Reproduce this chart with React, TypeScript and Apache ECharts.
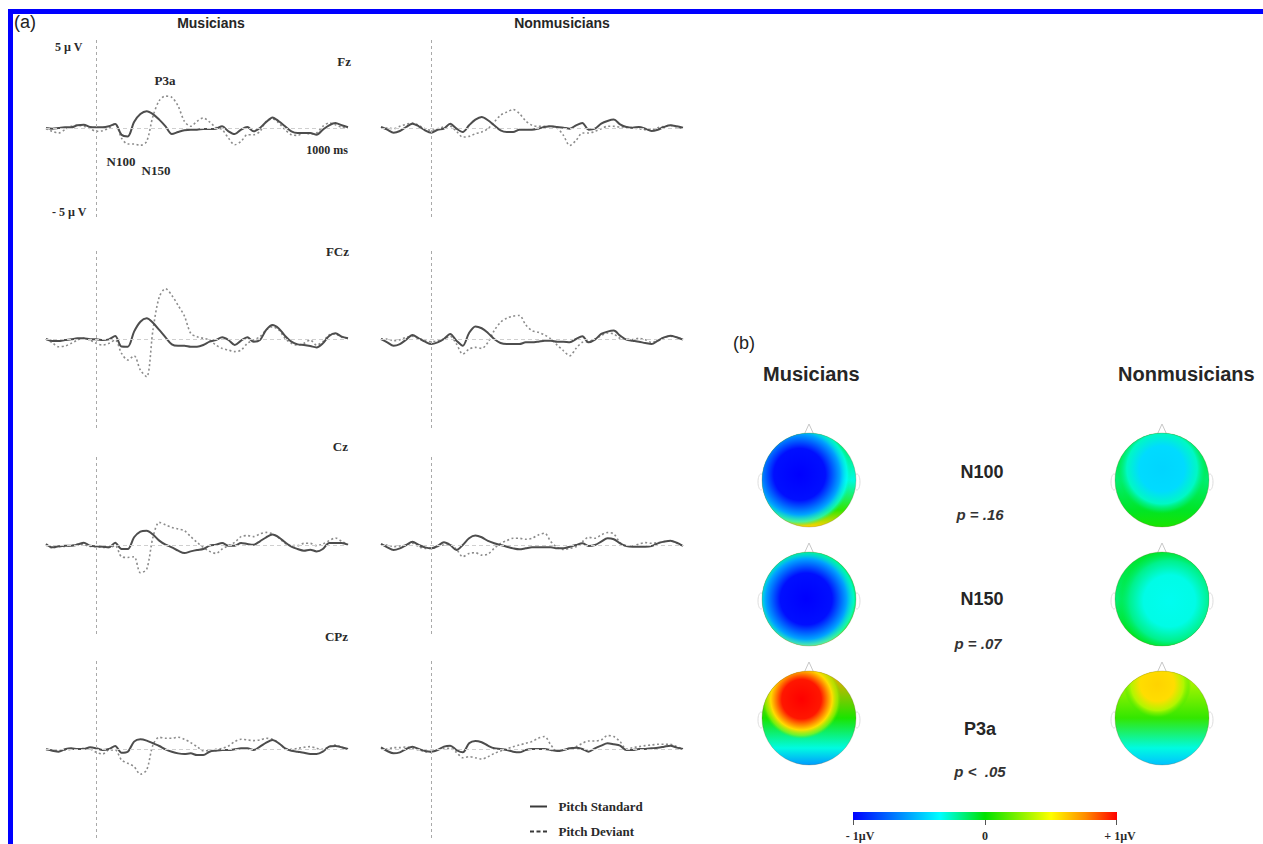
import React, { useEffect, useRef } from 'react';
import * as echarts from 'echarts';

// ---------- Data ----------
const timeMs = [-200,-175,-150,-125,-100,-75,-50,-25,0,25,50,75,100,125,150,175,200,225,250,275,300,325,350,375,400,425,450,475,500,525,550,575,600,625,650,675,700,725,750,775,800,825,850,875,900,925,950,975,1000];

const groups = ['Musicians', 'Nonmusicians'];
const electrodes = ['Fz', 'FCz', 'Cz', 'CPz'];
const conditions = ['Pitch Standard', 'Pitch Deviant'];

// amplitudes in µV (positive up)
const musFzStd = [0,-0.04,0,0.04,0.04,0.16,0.2,0.06,0.04,0.04,0.1,0.24,-0.4,-0.5,0.36,0.83,1.0,0.83,0.5,0.1,-0.36,-0.24,-0.14,-0.1,-0.1,-0.06,-0.06,-0.04,0.1,-0.2,-0.36,-0.1,0.06,-0.2,0,0.36,0.63,0.4,0.1,-0.2,-0.3,-0.3,-0.3,-0.4,-0.1,0.16,0.3,0.16,0.04];
const musFzDev = [-0.04,-0.2,-0.3,-0.1,0.1,0.16,0.1,-0.04,-0.2,-0.16,0,0.24,-0.6,-0.95,-0.95,-1.03,-0.8,0.7,1.63,1.9,1.83,1.3,0.4,0.1,0.4,0.6,0.36,0.04,-0.1,-0.6,-1.0,-0.8,-0.4,-0.4,-0.2,0.4,0.54,0.3,-0.1,-0.4,-0.44,-0.3,-0.36,-0.3,0.1,0.3,0.2,0.04,0];
const musFCzStd = [0,-0.12,-0.12,-0.06,-0.02,0.04,0.04,-0.02,-0.02,-0.06,-0.02,0.18,-0.45,-0.46,0.44,1.03,1.23,0.97,0.54,0.1,-0.32,-0.4,-0.4,-0.46,-0.46,-0.36,-0.16,-0.06,0.1,-0.06,-0.36,-0.1,0.1,-0.16,-0.06,0.54,0.83,0.63,0.18,-0.16,-0.32,-0.36,-0.42,-0.5,-0.26,0.18,0.34,0.14,0.04];
const musFCzDev = [0,-0.22,-0.46,-0.42,-0.26,-0.06,0.04,-0.06,-0.26,-0.36,-0.26,-0.06,-0.85,-1.25,-1.0,-1.85,-2.25,0.54,2.5,3.0,2.6,2.0,1.37,0.34,0.14,0.04,-0.06,-0.36,-0.56,-0.66,-0.75,-0.66,-0.26,-0.06,0.14,0.54,0.73,0.54,0.04,-0.26,-0.36,-0.26,-0.06,-0.36,-0.16,0.24,0.3,0.1,0.04];
const musCzStd = [0.06,-0.14,-0.08,-0.04,-0.04,0.02,0.14,-0.04,-0.08,-0.1,-0.14,0.14,-0.24,-0.24,0.46,0.8,0.85,0.62,0.26,0.02,-0.14,-0.34,-0.48,-0.38,-0.3,-0.24,-0.04,0.02,0.12,-0.04,-0.04,0.12,0.06,0.02,0.22,0.46,0.62,0.46,0.16,-0.1,-0.24,-0.34,-0.28,-0.38,-0.24,0.12,0.12,0.12,0.02];
const musCzDev = [0,-0.18,-0.1,-0.08,-0.04,0.06,0.02,-0.08,-0.1,-0.14,-0.14,-0.04,-0.7,-0.74,-0.7,-1.65,-1.45,0.46,1.35,1.2,1.05,0.95,0.85,0.5,0.16,-0.14,-0.38,-0.5,-0.24,-0.04,0.16,0.5,0.56,0.5,0.66,0.75,0.66,0.42,0.1,-0.04,-0.04,0.1,0.1,-0.04,0.06,0.26,0.42,0.22,0.02];
const musCPzStd = [-0.02,-0.1,-0.16,-0.02,0.04,0,0,0.1,0.04,-0.06,0,0.18,-0.22,-0.16,0.44,0.58,0.5,0.34,0.18,-0.02,-0.16,-0.26,-0.3,-0.26,-0.36,-0.36,-0.16,-0.1,-0.06,-0.06,-0.02,0.04,0.04,-0.06,0.14,0.38,0.54,0.34,0.04,-0.1,-0.16,-0.22,-0.3,-0.3,-0.16,0.14,0.18,0.1,0];
const musCPzDev = [-0.02,-0.06,-0.1,-0.06,-0.02,0,0.04,0,-0.2,-0.3,-0.06,-0.06,-0.65,-0.85,-1.05,-1.5,-1.25,0.24,0.7,0.64,0.64,0.7,0.58,0.38,0.14,-0.1,-0.1,-0.02,0.04,0.18,0.44,0.58,0.54,0.5,0.54,0.64,0.58,0.34,0.04,-0.02,0.04,0.1,0.14,0.04,-0.02,0.14,0.24,0.1,0];
const nonFzStd = [0.06,-0.1,-0.28,-0.18,0.06,0.26,0.1,-0.14,-0.28,-0.1,-0.04,0.26,-0.04,-0.24,0.16,0.5,0.66,0.46,0.16,-0.14,-0.24,-0.24,-0.1,-0.1,-0.1,-0.04,0.06,0.1,0.06,0.02,-0.04,0.16,0.3,-0.1,-0.04,0.26,0.42,0.5,0.22,0.06,0.02,0.06,-0.04,-0.18,-0.1,0.06,0.16,0.1,0.02];
const nonFzDev = [0,0,-0.04,0.1,0.22,0.3,0.16,-0.04,-0.14,-0.04,0.06,0.1,-0.2,-0.54,-0.5,-0.34,-0.24,-0.04,0.36,0.76,0.95,1.1,0.86,0.42,0.16,0.1,0.1,0.1,0,-0.44,-1.04,-0.74,-0.3,-0.3,-0.2,-0.04,0.1,0.1,0.06,0.06,0,-0.04,-0.1,-0.1,0.02,0.1,0.16,0.06,-0.04];
const nonFCzStd = [0,-0.2,-0.4,-0.3,-0.04,0.24,0.04,-0.16,-0.3,-0.2,0,0.3,-0.1,-0.4,0.36,0.75,0.64,0.36,0,-0.24,-0.3,-0.3,-0.3,-0.2,-0.2,-0.16,-0.1,-0.1,-0.16,-0.16,-0.2,0,0.16,-0.2,-0.04,0.3,0.44,0.5,0.2,-0.04,-0.1,-0.16,-0.24,-0.3,-0.1,0.1,0.2,0.1,-0.04];
const nonFCzDev = [0,0,-0.1,-0.04,0.1,0.16,0.04,-0.1,-0.16,-0.1,0,0.16,-0.3,-0.9,-0.6,-0.5,-0.56,-0.2,0.5,1.0,1.24,1.36,1.4,0.84,0.5,0.4,0.24,0,-0.36,-0.7,-1.0,-0.56,-0.2,-0.16,0,0.2,0.36,0.3,0.04,0,-0.04,0.04,-0.04,-0.2,-0.1,0.1,0.16,0.1,-0.04];
const nonCzStd = [0.06,-0.14,-0.3,-0.2,0,0.2,0,-0.14,-0.2,-0.06,0.16,0,-0.3,0,0.4,0.56,0.46,0.24,0.1,0,-0.1,-0.2,-0.26,-0.2,-0.14,-0.14,-0.14,-0.14,-0.2,-0.2,-0.1,0,0.1,-0.06,0,0.2,0.4,0.34,0.1,-0.06,-0.1,-0.1,-0.1,-0.06,0.1,0.2,0.26,0.14,-0.06];
const nonCzDev = [0,0,-0.1,-0.06,0,0.1,-0.1,-0.2,-0.2,-0.1,0,0,-0.26,-0.7,-0.5,-0.46,-0.6,-0.54,-0.2,0.1,0.26,0.4,0.4,0.34,0.4,0.6,0.7,0.2,-0.14,-0.26,-0.2,-0.1,0.2,0.46,0.4,0.6,0.74,0.66,0.14,-0.06,-0.06,0.06,0.14,0.1,0.14,0.2,0.26,0.1,-0.06];
const nonCPzStd = [0.1,-0.12,-0.26,-0.2,0,0.14,0,-0.12,-0.16,-0.06,0.14,0.2,-0.06,-0.2,0.34,0.48,0.4,0.2,0.04,0,-0.06,-0.16,-0.2,-0.06,0,0,0,-0.06,-0.12,-0.06,0.04,0.08,0,-0.16,0.04,0.2,0.34,0.28,0.2,-0.06,-0.06,0,0,0.04,0.08,0.14,0.2,0.08,0];
const nonCPzDev = [0,0,0.08,0.08,0.12,0.04,-0.06,-0.16,-0.2,-0.06,0.04,0.04,-0.2,-0.52,-0.46,-0.52,-0.6,-0.46,-0.26,-0.12,0,0.14,0.24,0.34,0.44,0.64,0.74,0.24,-0.12,-0.06,0.04,0.14,0.34,0.48,0.48,0.54,0.8,0.74,0.44,0,0.08,0.14,0.2,0.24,0.28,0.28,0.28,0.14,0];

// topographic maps (µV), Musicians then Nonmusicians, each N100, N150, P3a
const topoComponents = ['N100', 'N150', 'P3a'];
const topoPValues = ['p = .16', 'p = .07', 'p <  .05'];
// scalp values from front to back: top, middle, lower, bottom
const topoFrontBackMus = [[-0.1, -0.3, 0.1, 0.6], [0.0, -0.15, 0.15, 0.6], [0.7, 0.05, -0.3, -0.6]];
const topoFrontBackNon = [[-0.05, -0.15, -0.05, 0.05], [-0.05, -0.15, -0.05, 0.0], [0.4, 0.1, -0.3, -0.5]];
// extremum of each map: value
const topoPeakMus = [-1.0, -1.0, 1.0];
const topoPeakNon = [-0.45, -0.32, 0.6];
// extremum location on the scalp (relative x, relative y) and spread
const topoPeakLocMus = [[0.4, 0.44, 0.55], [0.47, 0.5, 0.55], [0.42, 0.3, 0.42]];
const topoPeakLocNon = [[0.5, 0.38, 0.48], [0.58, 0.52, 0.55], [0.45, 0.14, 0.36]];
const colorScaleTicks = ['- 1µV', '0', '+ 1µV'];

// ---------- colour scale (jet-like) ----------
const jetStops: [number, number[]][] = [
  [0.0, [0, 0, 255]],
  [0.33, [0, 255, 255]],
  [0.5, [0, 225, 0]],
  [0.75, [255, 255, 0]],
  [0.88, [255, 140, 0]],
  [1.0, [255, 0, 0]],
];
function jet(v: number, a = 1) {
  const t = Math.max(0, Math.min(1, (v + 1) / 2));
  for (let i = 1; i < jetStops.length; i++) {
    const [t1, c1] = jetStops[i];
    const [t0, c0] = jetStops[i - 1];
    if (t <= t1) {
      const f = (t - t0) / (t1 - t0);
      const c = c0.map((x, k) => Math.round(x + (c1[k] - x) * f));
      return `rgba(${c[0]},${c[1]},${c[2]},${a})`;
    }
  }
  return `rgba(255,0,0,${a})`;
}

const App: React.FC = () => {
  const ref = useRef<HTMLDivElement>(null);

  useEffect(() => {
    if (!ref.current) return;
    const chart = echarts.init(ref.current, undefined, { renderer: 'svg' });

    const colLeft = [46, 381];
    const rowTop = [39, 250, 456, 660];
    const gridW = 302;
    const gridH = 178;

    const panelData = [
      [musFzStd, musFzDev, nonFzStd, nonFzDev],
      [musFCzStd, musFCzDev, nonFCzStd, nonFCzDev],
      [musCzStd, musCzDev, nonCzStd, nonCzDev],
      [musCPzStd, musCPzDev, nonCPzStd, nonCPzDev],
    ];

    const grids: any[] = [];
    const xAxes: any[] = [];
    const yAxes: any[] = [];
    const series: any[] = [];

    electrodes.forEach((el, r) => {
      groups.forEach((g, c) => {
        const gi = grids.length;
        grids.push({ left: colLeft[c], top: rowTop[r], width: gridW, height: gridH });
        xAxes.push({ gridIndex: gi, type: 'value', min: -200, max: 1000, show: false });
        yAxes.push({ gridIndex: gi, type: 'value', min: -5.3, max: 5.3, show: false });
        const std = panelData[r][c * 2];
        const dev = panelData[r][c * 2 + 1];
        series.push({
          name: conditions[1],
          type: 'line',
          xAxisIndex: gi,
          yAxisIndex: gi,
          data: timeMs.map((t, i) => [t, dev[i]]),
          symbol: 'none',
          smooth: 0.3,
          lineStyle: { color: '#8c8c8c', width: 1.6, type: [2, 2.5] },
          itemStyle: { color: '#8c8c8c' },
          silent: true,
          z: 3,
          markLine: {
            silent: true,
            symbol: ['none', 'none'],
            label: { show: false },
            data: [
              { xAxis: 0, lineStyle: { color: '#a9a9a9', type: [3, 3], width: 1 } },
              { yAxis: 0, lineStyle: { color: '#cfcfcf', type: [4, 3], width: 1 } },
            ],
          },
        });
        series.push({
          name: conditions[0],
          type: 'line',
          xAxisIndex: gi,
          yAxisIndex: gi,
          data: timeMs.map((t, i) => [t, std[i]]),
          symbol: 'none',
          smooth: 0.3,
          lineStyle: { color: '#4d4d4d', width: 2 },
          itemStyle: { color: '#4d4d4d' },
          silent: true,
          z: 4,
        });
      });
    });

    // topographic maps grid (category centres at the grid edges)
    const topoGrid = grids.length;
    grids.push({ left: 809, top: 480, width: 353, height: 238 });
    xAxes.push({ gridIndex: topoGrid, type: 'category', data: groups, boundaryGap: false, show: false });
    yAxes.push({ gridIndex: topoGrid, type: 'category', data: topoComponents, boundaryGap: false, inverse: true, show: false });

    const topoFrontBack = [...topoFrontBackMus, ...topoFrontBackNon];
    const topoPeak = [...topoPeakMus, ...topoPeakNon];
    const topoPeakLoc = [...topoPeakLocMus, ...topoPeakLocNon];
    const topoData: number[][] = [];
    groups.forEach((_, gi) => topoComponents.forEach((_, ci) => topoData.push([gi, ci])));

    series.push({
      type: 'custom',
      xAxisIndex: topoGrid,
      yAxisIndex: topoGrid,
      data: topoData,
      silent: true,
      clip: false,
      renderItem: (params: any, api: any) => {
        const i = params.dataIndex;
        const pt = api.coord([api.value(0), api.value(1)]);
        const cx = pt[0];
        const cy = pt[1];
        const r = 47;
        const fb = topoFrontBack[i];
        const pk = topoPeak[i];
        const loc = topoPeakLoc[i];
        const baseFill = new echarts.graphic.LinearGradient(0, 0, 0, 1, [
          { offset: 0, color: jet(fb[0]) },
          { offset: 0.5, color: jet(fb[1]) },
          { offset: 0.82, color: jet(fb[2]) },
          { offset: 1, color: jet(fb[3]) },
        ]);
        const spotFill = new echarts.graphic.RadialGradient(loc[0], loc[1], loc[2], [
          { offset: 0, color: jet(pk) },
          { offset: 0.5, color: jet(pk * 0.96) },
          { offset: 0.78, color: jet(pk * 0.58) },
          { offset: 0.92, color: jet(pk * 0.34, 0.6) },
          { offset: 1, color: jet(pk * 0.2, 0) },
        ]);
        return {
          type: 'group',
          children: [
            { type: 'ellipse', shape: { cx: cx - r - 1, cy: cy + 2, rx: 3, ry: 8 }, style: { fill: '#fff', stroke: '#dedede', lineWidth: 1 } },
            { type: 'ellipse', shape: { cx: cx + r + 1, cy: cy + 2, rx: 3, ry: 8 }, style: { fill: '#fff', stroke: '#dedede', lineWidth: 1 } },
            { type: 'polyline', shape: { points: [[cx - 5, cy - r + 2], [cx, cy - r - 9], [cx + 5, cy - r + 2]] }, style: { fill: 'none', stroke: '#c8c8c8', lineWidth: 1 } },
            { type: 'circle', shape: { cx, cy, r }, style: { fill: baseFill } },
            { type: 'circle', shape: { cx, cy, r }, style: { fill: spotFill, stroke: 'rgba(120,90,40,0.25)', lineWidth: 1 } },
          ],
        };
      },
    });

    const serifBold = { fontFamily: 'Liberation Serif', fontWeight: 'bold', fill: '#2a2a2a' };
    const sansBold = { fontFamily: 'Liberation Sans', fontWeight: 'bold', fill: '#262626' };
    const txt = (text: string, x: number, y: number, style: any, align = 'center') => ({
      type: 'text',
      x,
      y,
      silent: true,
      style: { text, align, verticalAlign: 'middle', ...style },
    });

    const colorBarStops = jetStops.map(([o, c]) => ({ offset: o, color: `rgb(${c[0]},${c[1]},${c[2]})` }));

    const graphic: any[] = [
      { type: 'rect', shape: { x: 8, y: 9, width: 1255, height: 5 }, style: { fill: '#0000ff' }, silent: true },
      { type: 'rect', shape: { x: 8, y: 9, width: 5, height: 835 }, style: { fill: '#0000ff' }, silent: true },
      txt('(a)', 14, 22, { fontFamily: 'Liberation Sans', fontSize: 18, fill: '#222' }, 'left'),
      txt(groups[0], 211, 23, { ...sansBold, fontSize: 14 }),
      txt(groups[1], 562, 23, { ...sansBold, fontSize: 14 }),
      txt('5 µ V', 55, 47, { ...serifBold, fontSize: 12 }, 'left'),
      txt('- 5 µ V', 52, 212, { ...serifBold, fontSize: 12 }, 'left'),
      txt(electrodes[0], 351, 61, { ...serifBold, fontSize: 13 }, 'right'),
      txt(electrodes[1], 349, 251, { ...serifBold, fontSize: 13 }, 'right'),
      txt(electrodes[2], 348, 446, { ...serifBold, fontSize: 13 }, 'right'),
      txt(electrodes[3], 348, 636, { ...serifBold, fontSize: 13 }, 'right'),
      txt('P3a', 165, 80, { ...serifBold, fontSize: 13 }),
      txt('N100', 121, 161, { ...serifBold, fontSize: 13 }),
      txt('N150', 156, 170, { ...serifBold, fontSize: 13 }),
      txt('1000 ms', 327, 150, { ...serifBold, fontSize: 12 }),
      // part b
      txt('(b)', 733, 343, { fontFamily: 'Liberation Sans', fontSize: 18, fill: '#222' }, 'left'),
      txt(groups[0], 763, 374, { ...sansBold, fontSize: 20 }, 'left'),
      txt(groups[1], 1118, 374, { ...sansBold, fontSize: 20 }, 'left'),
      txt(topoComponents[0], 982, 472, { ...sansBold, fontSize: 18 }),
      txt(topoPValues[0], 980, 514, { ...sansBold, fontStyle: 'italic', fontSize: 15, fill: '#333' }),
      txt(topoComponents[1], 982, 599, { ...sansBold, fontSize: 18 }),
      txt(topoPValues[1], 978, 643, { ...sansBold, fontStyle: 'italic', fontSize: 15, fill: '#333' }),
      txt(topoComponents[2], 980, 729, { ...sansBold, fontSize: 18 }),
      txt(topoPValues[2], 980, 771, { ...sansBold, fontStyle: 'italic', fontSize: 15, fill: '#333' }),
      {
        type: 'rect',
        shape: { x: 853, y: 812, width: 264, height: 8 },
        style: { fill: new echarts.graphic.LinearGradient(0, 0, 1, 0, colorBarStops) },
        silent: true,
      },
      { type: 'line', shape: { x1: 853.5, y1: 820, x2: 853.5, y2: 825 }, style: { stroke: '#555', lineWidth: 1 } },
      { type: 'line', shape: { x1: 985.5, y1: 820, x2: 985.5, y2: 825 }, style: { stroke: '#555', lineWidth: 1 } },
      { type: 'line', shape: { x1: 1116.5, y1: 820, x2: 1116.5, y2: 825 }, style: { stroke: '#555', lineWidth: 1 } },
      txt(colorScaleTicks[0], 860, 836, { ...serifBold, fontSize: 12 }),
      txt(colorScaleTicks[1], 985, 836, { ...serifBold, fontSize: 12 }),
      txt(colorScaleTicks[2], 1120, 836, { ...serifBold, fontSize: 12 }),
    ];

    const legendBase = {
      orient: 'horizontal',
      left: 525,
      itemWidth: 17,
      itemHeight: 2,
      selectedMode: false,
      formatter: (name: string) => '  ' + name,
      textStyle: { fontFamily: 'Liberation Serif', fontWeight: 'bold', fontSize: 13, color: '#2a2a2a' },
    };

    chart.setOption({
      animation: false,
      backgroundColor: '#ffffff',
      grid: grids,
      xAxis: xAxes,
      yAxis: yAxes,
      legend: [
        {
          ...legendBase,
          top: 795,
          data: [{ name: conditions[0], icon: 'path://M0,0H17V2H0Z', itemStyle: { color: '#3a3a3a' } }],
        },
        {
          ...legendBase,
          top: 820,
          data: [{ name: conditions[1], icon: 'path://M0,0H4V2H0ZM6.5,0H10.5V2H6.5ZM13,0H17V2H13Z', itemStyle: { color: '#3a3a3a' } }],
        },
      ],
      series,
      graphic,
    });

    return () => chart.dispose();
  }, []);

  return (
    <div
      ref={ref}
      style={{ position: 'absolute', left: 0, top: 0, width: 1263, height: 844, background: '#fff' }}
    />
  );
};

export default App;
